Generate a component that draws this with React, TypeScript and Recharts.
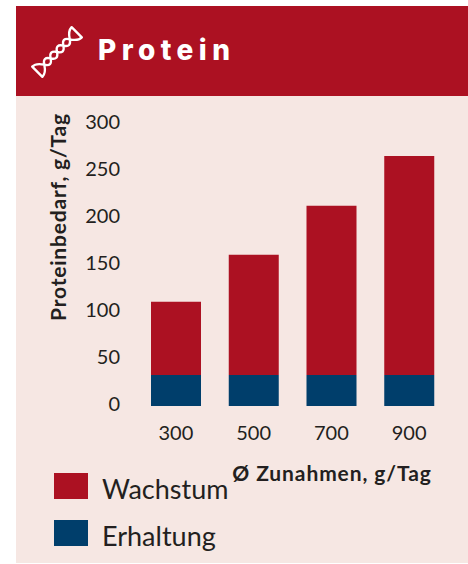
import React from "react";
import { BarChart, Bar, XAxis, YAxis, Legend } from "recharts";

const categories = ["300", "500", "700", "900"];
const erhaltung = [33, 33, 33, 33];
const wachstum = [78, 128, 180, 233];
const yTicks = [0, 50, 100, 150, 200, 250, 300];
const chartData = categories.map((c, i) => ({ c, erhaltung: erhaltung[i], wachstum: wachstum[i] }));

const RED = "#ac1122";
const NAVY = "#003e6b";
const BG = "#f6e7e3";
const INK = "#231f20";
const FONT = "Lato, 'Open Sans', sans-serif";

const LegendBox = () => (
  <div style={{ fontFamily: FONT }}>
    {[
      { name: "Wachstum", color: RED },
      { name: "Erhaltung", color: NAVY },
    ].map((it, i) => (
      <div key={it.name} style={{ position: "absolute", left: 0, top: i * 47, height: 26, display: "flex", alignItems: "center", whiteSpace: "nowrap" }}>
        <span style={{ display: "inline-block", width: 34, height: 26, background: it.color, marginRight: 14 }} />
        <span style={{ fontSize: 27, color: INK, position: "relative", top: 2 }}>{it.name}</span>
      </div>
    ))}
  </div>
);

const Dna = () => (
  <svg width="54" height="54" viewBox="-30 -30 60 60" style={{ position: "absolute", left: 30, top: 25 }}>
    <g transform="rotate(-45)" fill="none" stroke="#fff" strokeWidth="2.6" strokeLinejoin="round">
      <path d="M-31 -8 L-31 8 Q-25 8 -20 0 Q-15 -8 -10 0 Q-5 8 0 0 Q5 -8 10 0 Q15 8 20 0 Q25 -8 31 -8 L31 8 Q25 8 20 0 Q15 -8 10 0 Q5 8 0 0 Q-5 -8 -10 0 Q-15 8 -20 0 Q-25 -8 -31 -8 Z" />
    </g>
  </svg>
);

export default function App() {
  return (
    <div style={{ position: "relative", width: 468, height: 564, background: "#fff", overflow: "hidden" }}>
      <style>{"body{margin:0}"}</style>
      <div style={{ position: "absolute", left: 16, top: 6, width: 452, height: 557, background: BG }} />
      <div style={{ position: "absolute", left: 16, top: 6, width: 452, height: 90, background: RED }} />
      <Dna />
      <div style={{ position: "absolute", left: 98, top: 32, fontFamily: "Inter, Lato, sans-serif", fontWeight: 800, fontSize: 28, lineHeight: "36px", letterSpacing: 5.4, color: "#fff" }}>Protein</div>
      <div style={{ position: "absolute", left: 0, top: 0 }}>
        <BarChart width={468} height={564} data={chartData} margin={{ top: 124, right: 20, bottom: 118, left: 0 }} barCategoryGap={0}>
          <XAxis
            dataKey="c"
            axisLine={false}
            tickLine={false}
            tickSize={0}
            tickMargin={20}
            height={40}
            interval={0}
            tick={{ fill: INK, fontSize: 20, fontFamily: FONT }}
            label={() => (
              <text x={332} y={481} textAnchor="middle" fill={INK} fontSize={21} letterSpacing={0.9} fontWeight={700} fontFamily={FONT}>
                Ø Zunahmen, g/Tag
              </text>
            )}
          />
          <YAxis
            width={137}
            domain={[0, 300]}
            ticks={yTicks}
            axisLine={false}
            tickLine={false}
            tickSize={0}
            tickMargin={17}
            tick={{ fill: INK, fontSize: 20, fontFamily: FONT, dy: -2 }}
            label={() => (
              <text x={66} y={217} transform="rotate(-90 66 217)" textAnchor="middle" fill={INK} fontSize={21} letterSpacing={0.8} fontWeight={700} fontFamily={FONT}>
                Proteinbedarf, g/Tag
              </text>
            )}
          />
          <Legend content={<LegendBox />} layout="vertical" align="center" verticalAlign="middle" wrapperStyle={{ left: 54, top: 473, width: 200 }} />
          <Bar dataKey="erhaltung" name="Erhaltung" stackId="a" fill={NAVY} barSize={50} isAnimationActive={false} />
          <Bar dataKey="wachstum" name="Wachstum" stackId="a" fill={RED} barSize={50} isAnimationActive={false} />
        </BarChart>
      </div>
    </div>
  );
}
